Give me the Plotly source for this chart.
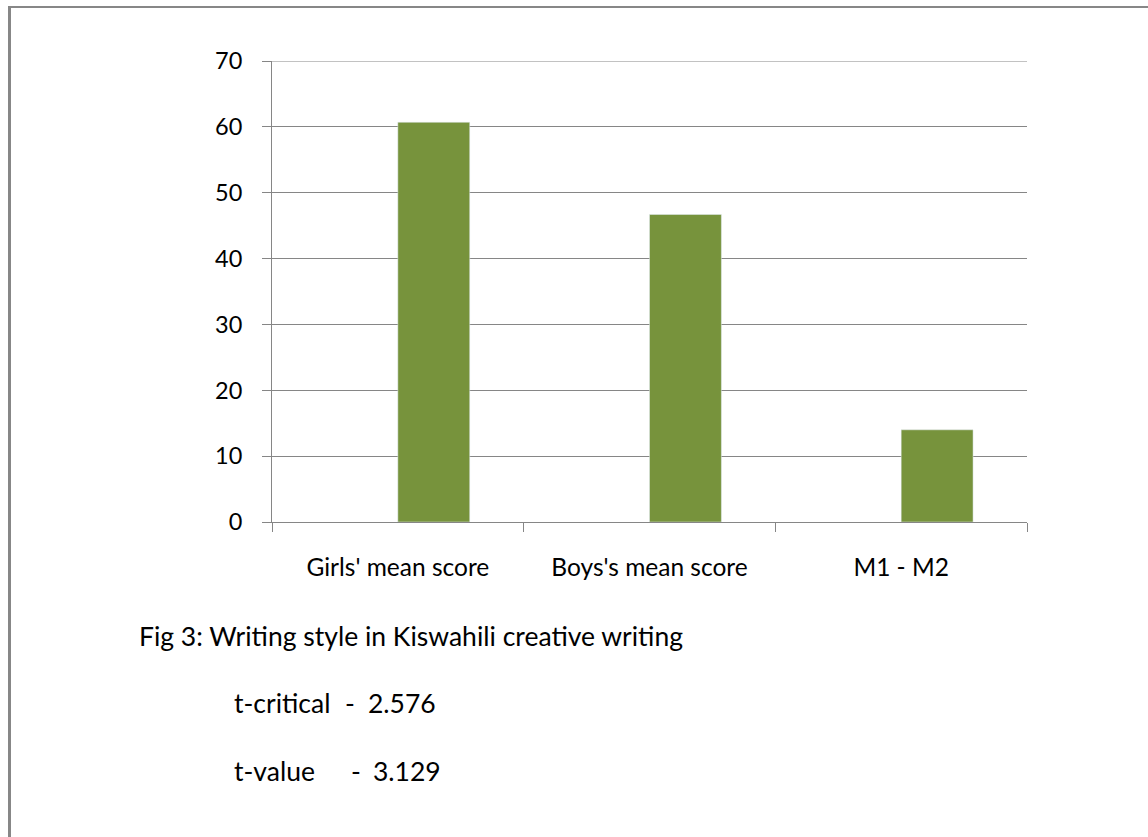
import plotly.graph_objects as go

categories = ["Girls' mean score", "Boys's mean score", "M1 - M2"]
series_blank = [None, None, None]
series_scores = [60.7, 46.7, 14.0]
y_ticks = [0, 10, 20, 30, 40, 50, 60, 70]

W, H = 1148, 837
L, R, T, B = 272, 1027, 61, 522
GRID = "#868686"
GREEN = "#77933C"
FONT = "Lato"

def px(x):
    return (x - L) / (R - L)

def py(y):
    return (B - y) / (B - T)

fig = go.Figure()
fig.add_trace(go.Bar(x=categories, y=series_blank, marker_color="#4F81BD", showlegend=False))
fig.add_trace(go.Bar(x=categories, y=series_scores, marker_color=GREEN, showlegend=False))

fig.update_layout(
    width=W, height=H, autosize=False,
    margin=dict(l=L, r=W - R, t=T, b=H - B, pad=0),
    paper_bgcolor="white", plot_bgcolor="white",
    barmode="group", bargap=108 / 252, bargroupgap=0,
    font=dict(family=FONT, size=24, color="#000000"),
)
fig.update_yaxes(
    range=[y_ticks[0], y_ticks[-1]], tickvals=y_ticks, showgrid=True, gridcolor=GRID, gridwidth=1,
    showline=True, linecolor=GRID, linewidth=1, ticks="outside", ticklen=9,
    tickcolor=GRID, zeroline=False, tickfont=dict(size=23.5, family=FONT),
    ticklabelstandoff=15,
)
fig.update_xaxes(
    showgrid=False, showline=True, linecolor=GRID, linewidth=1, ticks="outside",
    ticklen=9, tickcolor=GRID, tickson="boundaries", tickfont=dict(size=24.5, family=FONT),
    ticklabelstandoff=24,
)

# top gridline (at the range edge, which plotly skips)
fig.add_shape(type="line", xref="paper", yref="y", x0=0, x1=1, y0=y_ticks[-1], y1=y_ticks[-1],
              line=dict(color=GRID, width=1))

cap_font = dict(family=FONT, size=26.5, color="#000000")
anns = [
    ("Fig 3: Writing style in Kiswahili creative writing", 137, 636),
    ("t-critical", 232, 703),
    ("-", 343, 703),
    ("2.576", 366, 703),
    ("t-value", 232, 771),
    ("-", 349, 771),
    ("3.129", 371, 771),
]
for text, x, y in anns:
    fig.add_annotation(text=text, xref="paper", yref="paper", x=px(x), y=py(y),
                       xanchor="left", yanchor="middle", showarrow=False, font=cap_font)

# page border (top and left)
fig.add_shape(type="line", xref="paper", yref="paper", x0=px(8), x1=px(W), y0=py(7), y1=py(7),
              line=dict(color="#878787", width=2))
fig.add_shape(type="line", xref="paper", yref="paper", x0=px(9.5), x1=px(9.5), y0=py(6), y1=py(H),
              line=dict(color="#878787", width=3))

fig.write_html("out.html", config={"displayModeBar": False},
               post_script="document.body.style.margin='0';document.body.style.overflow='hidden';")
